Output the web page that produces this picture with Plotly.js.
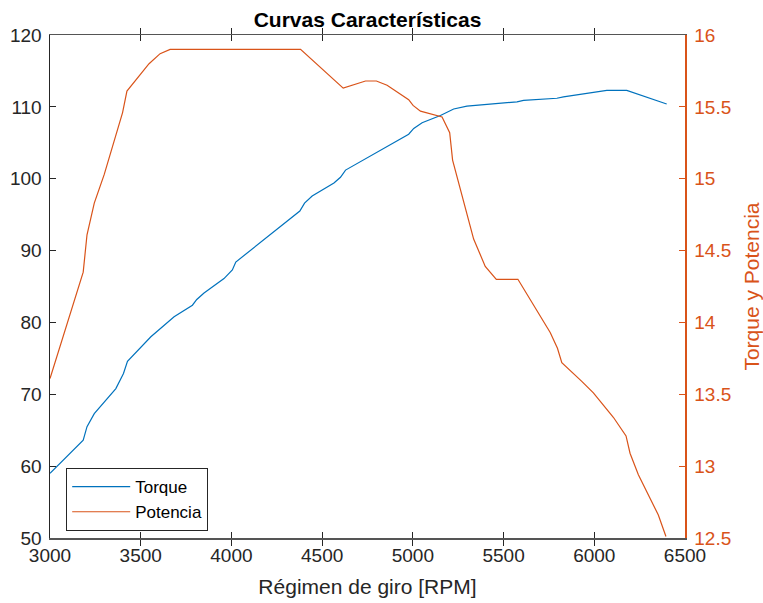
<!DOCTYPE html>
<html>
<head>
<meta charset="utf-8">
<script src="https://cdn.plot.ly/plotly-3.0.1.min.js"></script>
<style>
  html, body { margin: 0; padding: 0; background: #ffffff; }
  #chart { width: 763px; height: 603px; }
</style>
</head>
<body>
<div id="chart"></div>
<script>
// Engine speed samples for the torque curve [RPM]
var rpmTorque = [3000, 3183, 3204, 3244, 3363, 3405, 3427, 3556, 3684, 3785, 3809, 3849,
                 3959, 4005, 4024, 4157, 4377, 4403, 4445, 4565, 4601, 4629, 4977, 5005,
                 5051, 5152, 5225, 5298, 5574, 5610, 5794, 5830, 6069, 6179, 6399];
// Torque values (left axis)
var torque = [59.0, 63.6, 65.5, 67.3, 70.8, 72.9, 74.6, 78.0, 80.8, 82.4, 83.2, 84.1,
              86.1, 87.3, 88.4, 91.1, 95.5, 96.6, 97.6, 99.4, 100.2, 101.2, 106.2, 107.0,
              107.8, 108.8, 109.7, 110.1, 110.7, 110.9, 111.2, 111.4, 112.3, 112.3, 110.4];

// Engine speed samples for the power curve [RPM]
var rpmPower = [3000, 3183, 3204, 3244, 3299, 3354, 3400, 3424, 3546, 3607, 3662, 4381,
                4616, 4739, 4799, 4858, 4977, 5001, 5042, 5161, 5203, 5219, 5280, 5335,
                5399, 5460, 5579, 5757, 5797, 5821, 5931, 5995, 6105, 6175, 6197, 6243,
                6353, 6395];
// Power values (right axis)
var power = [13.61, 14.35, 14.61, 14.83, 15.03, 15.26, 15.46, 15.61, 15.80, 15.87, 15.90, 15.90,
             15.63, 15.68, 15.68, 15.65, 15.55, 15.51, 15.47, 15.43, 15.32, 15.13, 14.85, 14.58,
             14.39, 14.30, 14.30, 13.93, 13.82, 13.72, 13.59, 13.51, 13.34, 13.21, 13.09, 12.94,
             12.66, 12.51];

var leftTicks = [50, 60, 70, 80, 90, 100, 110, 120];
var rightTicks = [12.5, 13, 13.5, 14, 14.5, 15, 15.5, 16];
var xTicks = [3000, 3500, 4000, 4500, 5000, 5500, 6000, 6500];

var BLUE = '#0072BD';
var ORANGE = '#D95319';
var DARK = '#262626';
var FONT = 'Liberation Sans, Arial, Helvetica, sans-serif';

var traces = [
  {
    x: rpmTorque, y: torque, name: 'Torque', type: 'scatter', mode: 'lines',
    line: { color: BLUE, width: 1.2 }, yaxis: 'y'
  },
  {
    x: rpmPower, y: power, name: 'Potencia', type: 'scatter', mode: 'lines',
    line: { color: ORANGE, width: 1.2 }, yaxis: 'y2'
  }
];

var layout = {
  width: 763, height: 603,
  margin: { l: 49.5, r: 78, t: 35, b: 65, pad: 0 },
  paper_bgcolor: '#ffffff', plot_bgcolor: '#ffffff',
  font: { family: FONT, size: 17, color: DARK },
  title: {
    text: 'Curvas Características',
    font: { family: FONT, size: 21, weight: 'bold', color: '#000000' },
    x: 0.5, xref: 'paper', xanchor: 'center',
    y: 1, yref: 'paper', yanchor: 'bottom', pad: { b: 8 }
  },
  showlegend: true,
  legend: {
    x: 0.0255, y: 0.139, xanchor: 'left', yanchor: 'top',
    bgcolor: '#ffffff', bordercolor: DARK, borderwidth: 1,
    font: { family: FONT, size: 17, color: '#000000' },
    itemwidth: 58, tracegroupgap: 0
  },
  xaxis: {
    range: [3000, 6500], tickvals: xTicks, ticktext: xTicks.map(String),
    ticks: 'inside', ticklen: 6, tickcolor: DARK, tickwidth: 1,
    showline: true, linecolor: '#555555', linewidth: 1.5, mirror: 'allticks',
    showgrid: false, zeroline: false,
    tickfont: { family: FONT, size: 19, color: DARK },
    title: { text: 'Régimen de giro [RPM]', font: { family: FONT, size: 21, color: DARK }, standoff: 14 }
  },
  yaxis: {
    range: [50, 120], tickvals: leftTicks, ticktext: leftTicks.map(String),
    ticks: 'inside', ticklen: 6, tickcolor: DARK, tickwidth: 1,
    showline: true, linecolor: DARK, linewidth: 1.5,
    showgrid: false, zeroline: false,
    tickfont: { family: FONT, size: 19, color: DARK },
    ticklabelstandoff: 3
  },
  yaxis2: {
    overlaying: 'y', side: 'right',
    range: [12.5, 16], tickvals: rightTicks, ticktext: rightTicks.map(String),
    ticks: 'inside', ticklen: 6, tickcolor: ORANGE, tickwidth: 1,
    showline: true, linecolor: ORANGE, linewidth: 1.5,
    showgrid: false, zeroline: false,
    tickfont: { family: FONT, size: 19, color: ORANGE },
    ticklabelstandoff: 4,
    title: { text: 'Torque y Potencia', font: { family: FONT, size: 21, color: ORANGE }, standoff: 18 }
  }
};

Plotly.newPlot('chart', traces, layout, { staticPlot: true, displayModeBar: false });
</script>
</body>
</html>
